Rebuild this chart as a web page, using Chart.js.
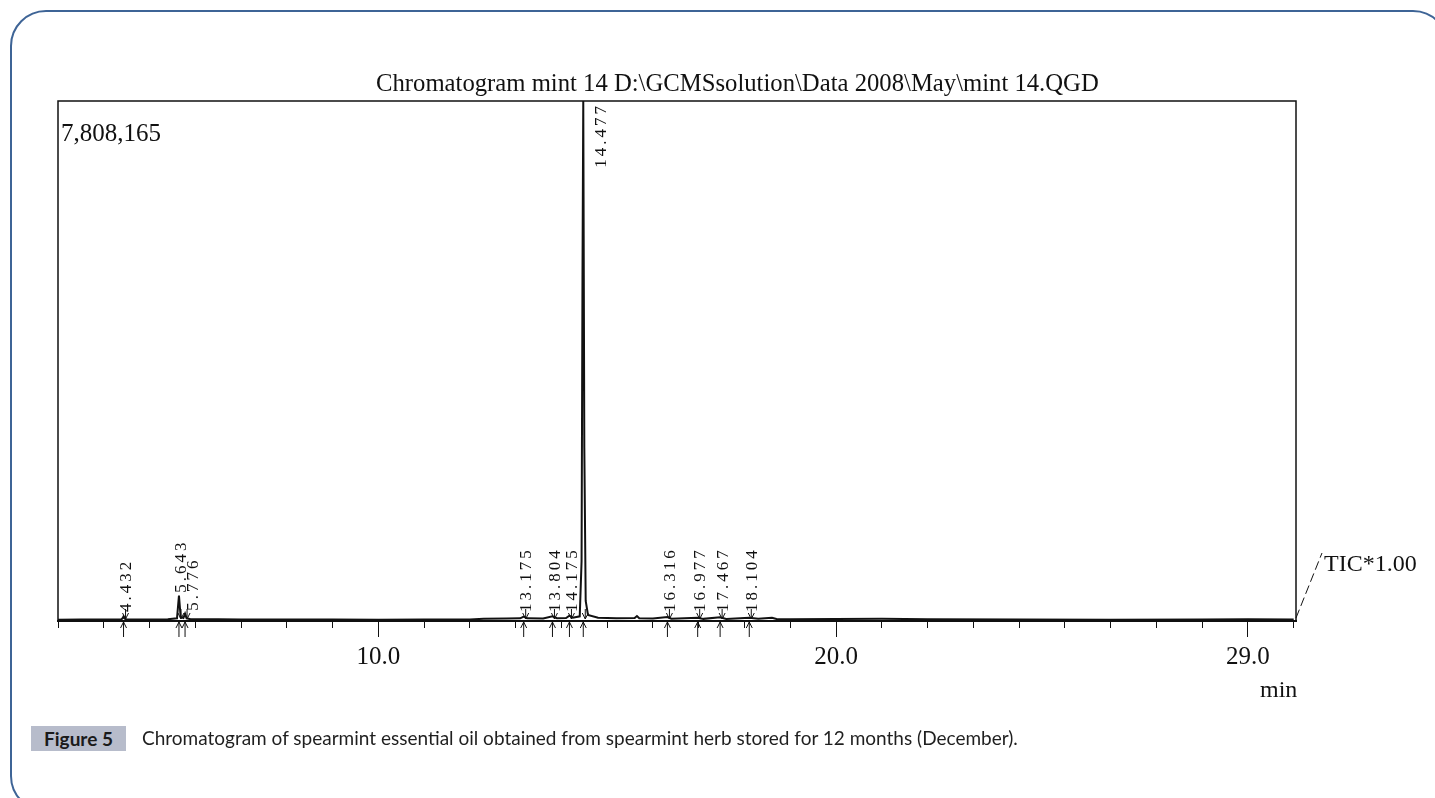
<!DOCTYPE html>
<html>
<head>
<meta charset="utf-8">
<script src="https://cdn.jsdelivr.net/npm/chart.js@4.4.1/dist/chart.umd.min.js"></script>
<style>
    html, body { margin: 0; padding: 0; background: #fff; overflow: hidden; }
    #frame {
        position: absolute; left: 10px; top: 10px; width: 1439px; height: 802px;
        box-sizing: border-box; border: 2px solid #3e6496; border-radius: 36px;
    }
    #c { position: absolute; left: 0; top: 0; width: 1435px; height: 798px; }
    #fig {
        position: absolute; left: 31px; top: 726px; width: 95px; height: 25px;
        background: #b7bccb; color: #1a1a1a; font: bold 19px Lato, "Open Sans", sans-serif;
        line-height: 25px; text-align: center;
    }
    #cap {
        position: absolute; left: 142px; top: 726px; height: 25px; line-height: 25px;
        color: #1f1f1f; font: 19px Lato, "Open Sans", sans-serif; white-space: nowrap;
    }
</style>
</head>
<body>
<div id="frame"></div>
<canvas id="c" width="1435" height="798"></canvas>
<div id="fig">Figure 5</div>
<div id="cap">Chromatogram of spearmint essential oil obtained from spearmint herb stored for 12 months (December).</div>
<script>
// retention time (min) and TIC intensity
const traceTimes = [
    3.0, 3.5, 4.0, 4.38, 4.41, 4.432, 4.46, 4.5, 5.0, 5.4,
    5.6, 5.643, 5.68, 5.74, 5.776, 5.81, 5.9, 6.5, 7.0, 8.0,
    9.0, 10.0, 11.0, 12.0, 12.3, 12.8, 13.1, 13.175, 13.25, 13.6,
    13.804, 13.9, 14.1, 14.175, 14.25, 14.4, 14.44, 14.46, 14.477, 14.5,
    14.53, 14.58, 14.8, 15.2, 15.6, 15.65, 15.7, 16.0, 16.316, 16.4,
    16.977, 17.1, 17.467, 17.6, 18.104, 18.3, 18.6, 18.7, 19.0, 20.0,
    21.0, 22.0, 24.0, 26.0, 28.0, 29.0, 30.0
];
const traceIntensity = [
    20000, 22000, 21000, 22000, 40000, 70000, 35000, 22000, 24000, 25000,
    40000, 380000, 60000, 45000, 110000, 40000, 26000, 25000, 24000, 22000,
    22000, 20000, 21000, 22000, 35000, 38000, 40000, 65000, 40000, 38000,
    70000, 42000, 45000, 80000, 50000, 70000, 900000, 5200000, 7808165, 2600000,
    300000, 90000, 50000, 40000, 45000, 75000, 42000, 38000, 60000, 35000,
    50000, 32000, 55000, 30000, 50000, 35000, 50000, 30000, 25000, 30000,
    35000, 28000, 22000, 20000, 22000, 25000, 22000
];

// labelled peaks
const peakTimes = [4.432, 5.643, 5.776, 13.175, 13.804, 14.175, 14.477, 16.316, 16.977, 17.467, 18.104];
const peakHeights = [70000, 380000, 110000, 65000, 70000, 80000, 7808165, 60000, 50000, 55000, 50000];
const peakLabels = ["4.432", "5.643", "5.776", "13.175", "13.804", "14.175", "14.477", "16.316", "16.977", "17.467", "18.104"];

// x axis
const xMin = 3.0;
const xMax = 30.05;
const xLabelled = [10, 20, 29];
const yMax = 7808165;

const titleText = "Chromatogram mint 14 D:\\GCMSsolution\\Data 2008\\May\\mint 14.QGD";
const maxText = "7,808,165";
const ticText = "TIC*1.00";
const unitText = "min";

const SERIF = "'Liberation Serif', 'Times New Roman', serif";

const annotations = {
    id: "annotations",
    afterDraw(chart) {
        const ctx = chart.ctx;
        const area = chart.chartArea;
        const xs = chart.scales.x;
        const ys = chart.scales.y;
        const base = area.bottom;
        ctx.save();

        // frame of the plot
        ctx.strokeStyle = "#111";
        ctx.lineWidth = 1.5;
        ctx.strokeRect(area.left, area.top, area.right - area.left, area.bottom - area.top);

        // texts
        ctx.fillStyle = "#111";
        ctx.font = "24.7px " + SERIF;
        ctx.textBaseline = "alphabetic";
        ctx.textAlign = "left";
        ctx.fillText(titleText, 376, 91);
        ctx.font = "25px " + SERIF;
        ctx.fillText(maxText, area.left + 3, 141);
        ctx.font = "24px " + SERIF;
        ctx.fillText(ticText, 1324, 571);
        ctx.fillText(unitText, 1260, 697);

        // slanted TIC leader
        ctx.lineWidth = 1;
        ctx.setLineDash([9, 4]);
        ctx.beginPath();
        ctx.moveTo(area.right, base - 3);
        ctx.lineTo(1322, 553);
        ctx.stroke();
        ctx.setLineDash([]);

        // peak marks and labels
        ctx.font = "17px " + SERIF;
        ctx.letterSpacing = "3px";
        ctx.textBaseline = "middle";
        let lastX = -100;
        peakTimes.forEach((t, i) => {
            const px = xs.getPixelForValue(t);
            const top = ys.getPixelForValue(peakHeights[i]);

            // arrows at the baseline
            ctx.lineWidth = 1;
            ctx.beginPath();
            ctx.moveTo(px, base + 1);
            ctx.lineTo(px, base + 16);
            ctx.moveTo(px - 3, base + 7);
            ctx.lineTo(px, base + 1);
            ctx.lineTo(px + 3, base + 7);
            ctx.moveTo(px + 2, base - 2);
            ctx.lineTo(px + 2, base - 12);
            ctx.moveTo(px - 1, base - 8);
            ctx.lineTo(px + 2, base - 2);
            ctx.lineTo(px + 5, base - 8);
            ctx.stroke();

            const w = ctx.measureText(peakLabels[i]).width;
            ctx.save();
            if (top - w < area.top + 20) {
                ctx.translate(px + 18, area.top + 2);
                ctx.rotate(-Math.PI / 2);
                ctx.textAlign = "right";
                ctx.fillText(peakLabels[i], 0, 0);
            } else {
                let lx = px + 3;
                if (lx < lastX + 12) lx = lastX + 12;
                lastX = lx;
                const bottom = Math.min(base - 9, top - 3);
                ctx.translate(lx, bottom);
                ctx.rotate(-Math.PI / 2);
                ctx.textAlign = "left";
                ctx.fillText(peakLabels[i], 0, 0);
            }
            ctx.restore();
        });
        ctx.restore();
    }
};

new Chart(document.getElementById("c"), {
    type: "line",
    data: {
        datasets: [{
            data: traceTimes.map((t, i) => ({ x: t, y: traceIntensity[i] })),
            borderColor: "#111",
            borderWidth: 2,
            pointRadius: 0,
            tension: 0,
            fill: false
        }]
    },
    options: {
        responsive: false,
        devicePixelRatio: 1,
        animation: false,
        layout: { padding: { left: 58, top: 101, right: 139, bottom: 127 } },
        plugins: { legend: { display: false }, tooltip: { enabled: false }, title: { display: false } },
        scales: {
            x: {
                type: "linear",
                min: xMin,
                max: xMax,
                afterFit(scale) { scale.height = 50; },
                border: { display: true, color: "#111", width: 2 },
                grid: {
                    drawOnChartArea: false,
                    drawTicks: true,
                    tickLength: 16,
                    tickColor: "#111",
                    tickWidth: 1,
                    tickBorderDash: ctx => xLabelled.includes(ctx.tick && ctx.tick.value) ? [] : [6, 100]
                },
                ticks: {
                    stepSize: 1,
                    includeBounds: false,
                    autoSkip: false,
                    maxRotation: 0,
                    padding: 5,
                    color: "#111",
                    font: { family: SERIF, size: 25 },
                    callback: v => xLabelled.includes(v) ? v.toFixed(1) : ""
                }
            },
            y: {
                display: false,
                min: 0,
                max: yMax
            }
        }
    },
    plugins: [annotations]
});
</script>
</body>
</html>
